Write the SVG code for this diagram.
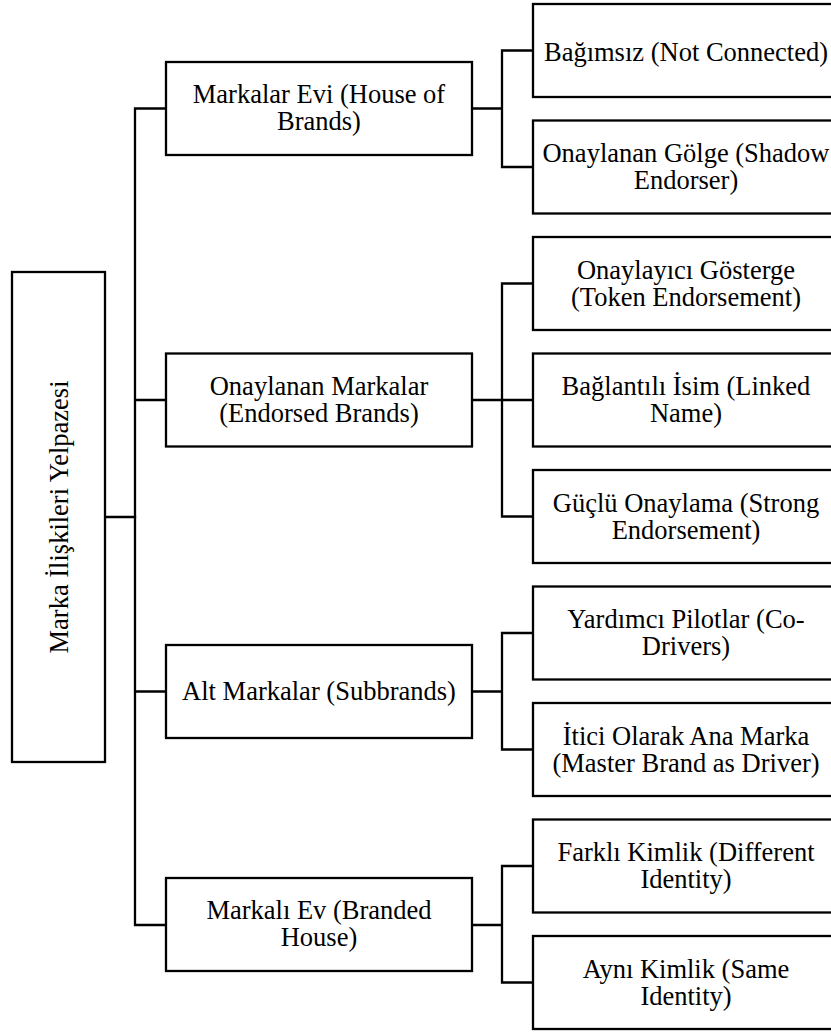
<svg xmlns="http://www.w3.org/2000/svg" width="831" height="1032" viewBox="0 0 831 1032">
  <style>
    .box { fill: #ffffff; stroke: #000000; stroke-width: 2.3; }
    .lbl { font-family: "Liberation Serif", "Times New Roman", serif; font-size: 26.5px; fill: #000000; text-anchor: middle; }
    .wire { fill: none; stroke: #000000; stroke-width: 2.3; stroke-linecap: square; stroke-linejoin: miter; }
  </style>
  <rect width="831" height="1032" fill="#ffffff"/>

  <!-- connectors -->
  <g id="connectors">
    <path class="wire" d="M105,517 H135"/>
    <path class="wire" d="M166,108.5 H135 V925 H166 M135,400 H166 M135,691.5 H166"/>
    <path class="wire" d="M472,108.5 H502 M533,50.5 H502 V167 H533"/>
    <path class="wire" d="M472,400 H533 M533,283.5 H502 V516.5 H533"/>
    <path class="wire" d="M472,691.5 H502 M533,633 H502 V749.5 H533"/>
    <path class="wire" d="M472,925 H502 M533,866 H502 V982.5 H533"/>
  </g>

  <!-- root -->
  <g id="root">
    <rect class="box" x="12" y="272" width="93" height="490"/>
    <text class="lbl" transform="translate(67.5,517) rotate(-90)" x="0" y="0">Marka İlişkileri Yelpazesi</text>
  </g>

  <!-- first level -->
  <g id="house-of-brands">
    <rect class="box" x="166" y="62" width="306" height="93"/>
    <text class="lbl" x="319" y="103">Markalar Evi (House of<tspan x="319" dy="27">Brands)</tspan></text>
  </g>
  <g id="endorsed-brands">
    <rect class="box" x="166" y="353.5" width="306" height="93"/>
    <text class="lbl" x="319" y="395">Onaylanan Markalar<tspan x="319" dy="27">(Endorsed Brands)</tspan></text>
  </g>
  <g id="subbrands">
    <rect class="box" x="166" y="645" width="306" height="93"/>
    <text class="lbl" x="319" y="700">Alt Markalar (Subbrands)</text>
  </g>
  <g id="branded-house">
    <rect class="box" x="166" y="878" width="306" height="93"/>
    <text class="lbl" x="319" y="919">Markalı Ev (Branded<tspan x="319" dy="27">House)</tspan></text>
  </g>

  <!-- second level -->
  <g id="not-connected">
    <rect class="box" x="533" y="4" width="310" height="93"/>
    <text class="lbl" x="686" y="61">Bağımsız (Not Connected)</text>
  </g>
  <g id="shadow-endorser">
    <rect class="box" x="533" y="120.5" width="310" height="93"/>
    <text class="lbl" x="686" y="162">Onaylanan Gölge (Shadow<tspan x="686" dy="27">Endorser)</tspan></text>
  </g>
  <g id="token-endorsement">
    <rect class="box" x="533" y="237" width="310" height="93"/>
    <text class="lbl" x="686" y="279">Onaylayıcı Gösterge<tspan x="686" dy="27">(Token Endorsement)</tspan></text>
  </g>
  <g id="linked-name">
    <rect class="box" x="533" y="353.5" width="310" height="93"/>
    <text class="lbl" x="686" y="395">Bağlantılı İsim (Linked<tspan x="686" dy="27">Name)</tspan></text>
  </g>
  <g id="strong-endorsement">
    <rect class="box" x="533" y="470" width="310" height="93"/>
    <text class="lbl" x="686" y="512">Güçlü Onaylama (Strong<tspan x="686" dy="27">Endorsement)</tspan></text>
  </g>
  <g id="co-drivers">
    <rect class="box" x="533" y="586.5" width="310" height="93"/>
    <text class="lbl" x="686" y="628">Yardımcı Pilotlar (Co-<tspan x="686" dy="27">Drivers)</tspan></text>
  </g>
  <g id="master-brand-driver">
    <rect class="box" x="533" y="703" width="310" height="93"/>
    <text class="lbl" x="686" y="745">İtici Olarak Ana Marka<tspan x="686" dy="27">(Master Brand as Driver)</tspan></text>
  </g>
  <g id="different-identity">
    <rect class="box" x="533" y="819.5" width="310" height="93"/>
    <text class="lbl" x="686" y="861">Farklı Kimlik (Different<tspan x="686" dy="27">Identity)</tspan></text>
  </g>
  <g id="same-identity">
    <rect class="box" x="533" y="936" width="310" height="93"/>
    <text class="lbl" x="686" y="978">Aynı Kimlik (Same<tspan x="686" dy="27">Identity)</tspan></text>
  </g>
</svg>
